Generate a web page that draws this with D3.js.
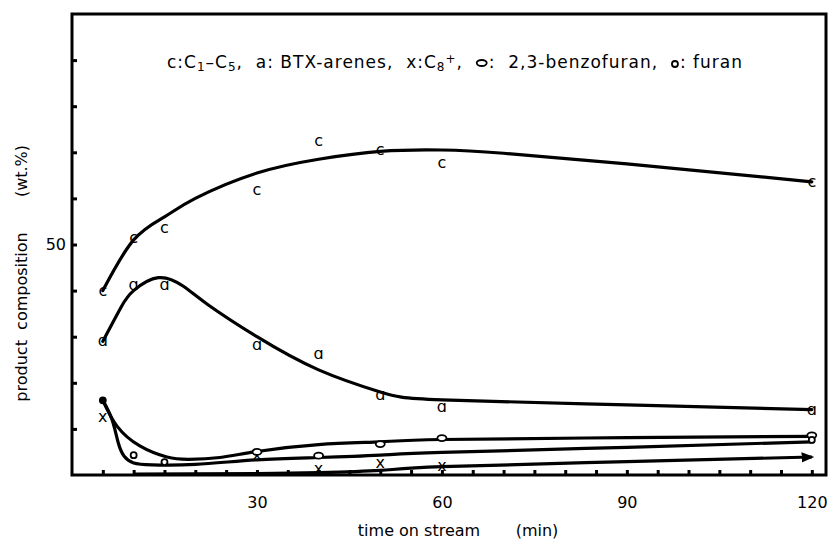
<!DOCTYPE html>
<html>
<head>
<meta charset="utf-8">
<script src="https://cdn.jsdelivr.net/npm/d3@7"></script>
<style>
  body { margin: 0; background: #fff; }
  svg { display: block; }
  text { font-family: "DejaVu Sans", sans-serif; fill: #000; }
</style>
</head>
<body>
<div class="chart"></div>
<script>
// Measured points (time on stream in min -> wt.%)
var cTimes = [5, 10, 15, 30, 40, 50, 60, 120];
var cValues = [40, 51.4, 53.6, 61.8, 72.5, 70.5, 67.7, 63.6];

var aTimes = [5, 10, 15, 30, 40, 50, 60, 120];
var aValues = [29, 41.2, 41.2, 28.2, 26.2, 17.4, 14.8, 14.1];

var xTimes = [5, 30, 40, 50, 60];
var xValues = [12.6, 4.4, 1.3, 2.6, 2.0];

var benzTimes = [30, 40, 50, 60, 120];
var benzValues = [5.0, 4.2, 6.7, 8.0, 8.6];

var furanTimes = [5, 10, 15, 120];
var furanValues = [16.2, 4.3, 2.8, 7.6];

// Hand drawn fit curves
var cCurveTimes = [5, 10, 15, 20, 30, 40, 50, 60, 70, 90, 120];
var cCurveValues = [40, 51, 56, 60, 65.5, 68.5, 70.2, 70.5, 69.8, 67.5, 63.6];

var aCurveTimes = [5, 8, 10, 14, 18, 22, 30, 40, 50, 60, 90, 120];
var aCurveValues = [29, 36.5, 40, 42.8, 41, 37, 30, 22.8, 18, 16.3, 15.2, 14.2];

var benzCurveTimes = [5, 7.3, 11, 15.4, 19, 24, 30, 40, 50, 60, 90, 120];
var benzCurveValues = [16.2, 10.6, 6.3, 3.9, 3.4, 3.8, 5.1, 6.6, 7.2, 7.7, 8.1, 8.4];

var furanCurveTimes = [5, 6.5, 7.5, 8.5, 10, 13, 20, 30, 40, 50, 60, 90, 120];
var furanCurveValues = [16.2, 12, 7, 4, 2.6, 2.2, 2.3, 3.3, 3.8, 4.3, 4.9, 6, 7.2];

var xCurveTimes = [10, 30, 40, 50, 60, 90, 120];
var xCurveValues = [0.2, 0.3, 0.5, 1.0, 1.8, 2.9, 3.9];

// Axis labels
var xTickLabels = [30, 60, 90, 120];
var yTickLabels = [50];
var xMinorTicks = d3.range(5, 121, 5);
var yMinorTicks = [10, 20, 30, 40, 50, 60, 70, 80, 90];

var svgWidth = 829;
var svgHeight = 540;

var svg = d3.select(".chart")
  .append("svg")
  .attr("width", svgWidth)
  .attr("height", svgHeight);

var x = d3.scaleLinear().domain([0, 122.3]).range([72, 826]);
var y = d3.scaleLinear().domain([0, 100]).range([475, 14]);

function zip(ts, vs) {
  return ts.map(function(t, i) { return [t, vs[i]]; });
}

// arrow head for the C8+ line
svg.append("defs")
  .append("marker")
  .attr("id", "arrow")
  .attr("viewBox", "0 0 10 10")
  .attr("refX", 8)
  .attr("refY", 5)
  .attr("markerWidth", 4)
  .attr("markerHeight", 4)
  .attr("markerUnits", "strokeWidth")
  .attr("orient", "auto")
  .append("path")
  .attr("d", "M0,1 L10,5 L0,9 z")
  .attr("fill", "#000");

// minor ticks pointing inward
var bottomTicks = svg.append("g")
  .attr("transform", "translate(0," + y(0) + ")")
  .call(d3.axisBottom(x).tickValues(xMinorTicks).tickSize(-5).tickFormat(""));
bottomTicks.select(".domain").remove();
bottomTicks.selectAll("line").attr("stroke-width", 3);

var leftTicks = svg.append("g")
  .attr("transform", "translate(" + x(0) + ",0)")
  .call(d3.axisLeft(y).tickValues(yMinorTicks).tickSize(-5).tickFormat(""));
leftTicks.select(".domain").remove();
leftTicks.selectAll("line").attr("stroke-width", 3);

// tick labels
var xLab = svg.append("g")
  .attr("transform", "translate(0," + y(0) + ")")
  .call(d3.axisBottom(x).tickValues(xTickLabels).tickSize(0).tickPadding(22));
xLab.select(".domain").remove();
xLab.selectAll("text").style("font-size", "16px").style("font-family", "DejaVu Sans");

var yLab = svg.append("g")
  .attr("transform", "translate(" + x(0) + ",0)")
  .call(d3.axisLeft(y).tickValues(yTickLabels).tickSize(0).tickPadding(6));
yLab.select(".domain").remove();
yLab.selectAll("text").style("font-size", "16px").style("font-family", "DejaVu Sans");

// frame
svg.append("rect")
  .attr("x", x(0))
  .attr("y", y(100))
  .attr("width", x(122.3) - x(0))
  .attr("height", y(0) - y(100))
  .attr("fill", "none")
  .attr("stroke", "#000")
  .attr("stroke-width", 3);

// fitted curves
var line = d3.line()
  .x(function(d) { return x(d[0]); })
  .y(function(d) { return y(d[1]); })
  .curve(d3.curveNatural);

var curves = [
  zip(cCurveTimes, cCurveValues),
  zip(aCurveTimes, aCurveValues),
  zip(benzCurveTimes, benzCurveValues),
  zip(furanCurveTimes, furanCurveValues)
];

svg.selectAll(".fit")
  .data(curves)
  .enter()
  .append("path")
  .attr("class", "fit")
  .attr("d", line)
  .attr("fill", "none")
  .attr("stroke", "#000")
  .attr("stroke-width", 3.2)
  .attr("stroke-linecap", "round");

svg.append("path")
  .datum(zip(xCurveTimes, xCurveValues))
  .attr("d", line)
  .attr("fill", "none")
  .attr("stroke", "#000")
  .attr("stroke-width", 3.2)
  .attr("marker-end", "url(#arrow)");

// letter markers
function letterMarks(ts, vs, glyph) {
  svg.append("g")
    .selectAll("text")
    .data(zip(ts, vs))
    .enter()
    .append("text")
    .attr("x", function(d) { return x(d[0]); })
    .attr("y", function(d) { return y(d[1]); })
    .attr("dy", "0.32em")
    .attr("text-anchor", "middle")
    .style("font-size", "16px")
    .text(glyph);
}
letterMarks(cTimes, cValues, "c");
letterMarks(aTimes, aValues, "ɑ");
letterMarks(xTimes, xValues, "x");

// 2,3-benzofuran: flat ovals
svg.append("g")
  .selectAll("ellipse")
  .data(zip(benzTimes, benzValues))
  .enter()
  .append("ellipse")
  .attr("cx", function(d) { return x(d[0]); })
  .attr("cy", function(d) { return y(d[1]); })
  .attr("rx", 4.5)
  .attr("ry", 3)
  .attr("fill", "#fff")
  .attr("stroke", "#000")
  .attr("stroke-width", 1.8);

// furan: small circles
svg.append("g")
  .selectAll("circle")
  .data(zip(furanTimes, furanValues))
  .enter()
  .append("circle")
  .attr("cx", function(d) { return x(d[0]); })
  .attr("cy", function(d) { return y(d[1]); })
  .attr("r", 3)
  .attr("fill", function(d, i) { return i === 0 ? "#000" : "#fff"; })
  .attr("stroke", "#000")
  .attr("stroke-width", 1.8);

// legend line, pieces placed one after another
var legendY = 68;
var legendX = 167;
var legend = svg.append("g")
  .style("font-size", "17px")
  .style("letter-spacing", "1px");

function addText(parts) {
  var t = legend.append("text").attr("x", legendX).attr("y", legendY).attr("xml:space", "preserve");
  parts.forEach(function(p) {
    var s = t.append("tspan").text(p.s);
    if (p.sub) s.attr("baseline-shift", "-25%").style("font-size", "12px");
    if (p.sup) s.attr("baseline-shift", "45%").style("font-size", "12px");
  });
  legendX += t.node().getComputedTextLength();
}

addText([
  {s: "c:C"}, {s: "1", sub: true}, {s: "–C"}, {s: "5", sub: true},
  {s: ",  a: BTX-arenes,  x:C"}, {s: "8", sub: true}, {s: "+", sup: true}, {s: ",  "}
]);
legend.append("ellipse")
  .attr("cx", legendX + 6).attr("cy", legendY - 5)
  .attr("rx", 5).attr("ry", 3)
  .attr("fill", "none").attr("stroke", "#000").attr("stroke-width", 1.8);
legendX += 13;
addText([{s: ":  2,3-benzofuran,  "}]);
legend.append("circle")
  .attr("cx", legendX + 4).attr("cy", legendY - 4)
  .attr("r", 3)
  .attr("fill", "#fff").attr("stroke", "#000").attr("stroke-width", 1.8);
legendX += 9;
addText([{s: ": furan"}]);

// axis titles
svg.append("text")
  .attr("x", 419)
  .attr("y", 536)
  .attr("text-anchor", "middle")
  .style("font-size", "16px")
  .text("time on stream");
svg.append("text")
  .attr("x", 537)
  .attr("y", 536)
  .attr("text-anchor", "middle")
  .style("font-size", "16px")
  .text("(min)");

svg.append("text")
  .attr("transform", "translate(27,317) rotate(-90)")
  .attr("text-anchor", "middle")
  .attr("xml:space", "preserve")
  .style("font-size", "16px")
  .text("product  composition");
svg.append("text")
  .attr("transform", "translate(27,171) rotate(-90)")
  .attr("text-anchor", "middle")
  .style("font-size", "16px")
  .text("(wt.%)");
</script>
</body>
</html>
